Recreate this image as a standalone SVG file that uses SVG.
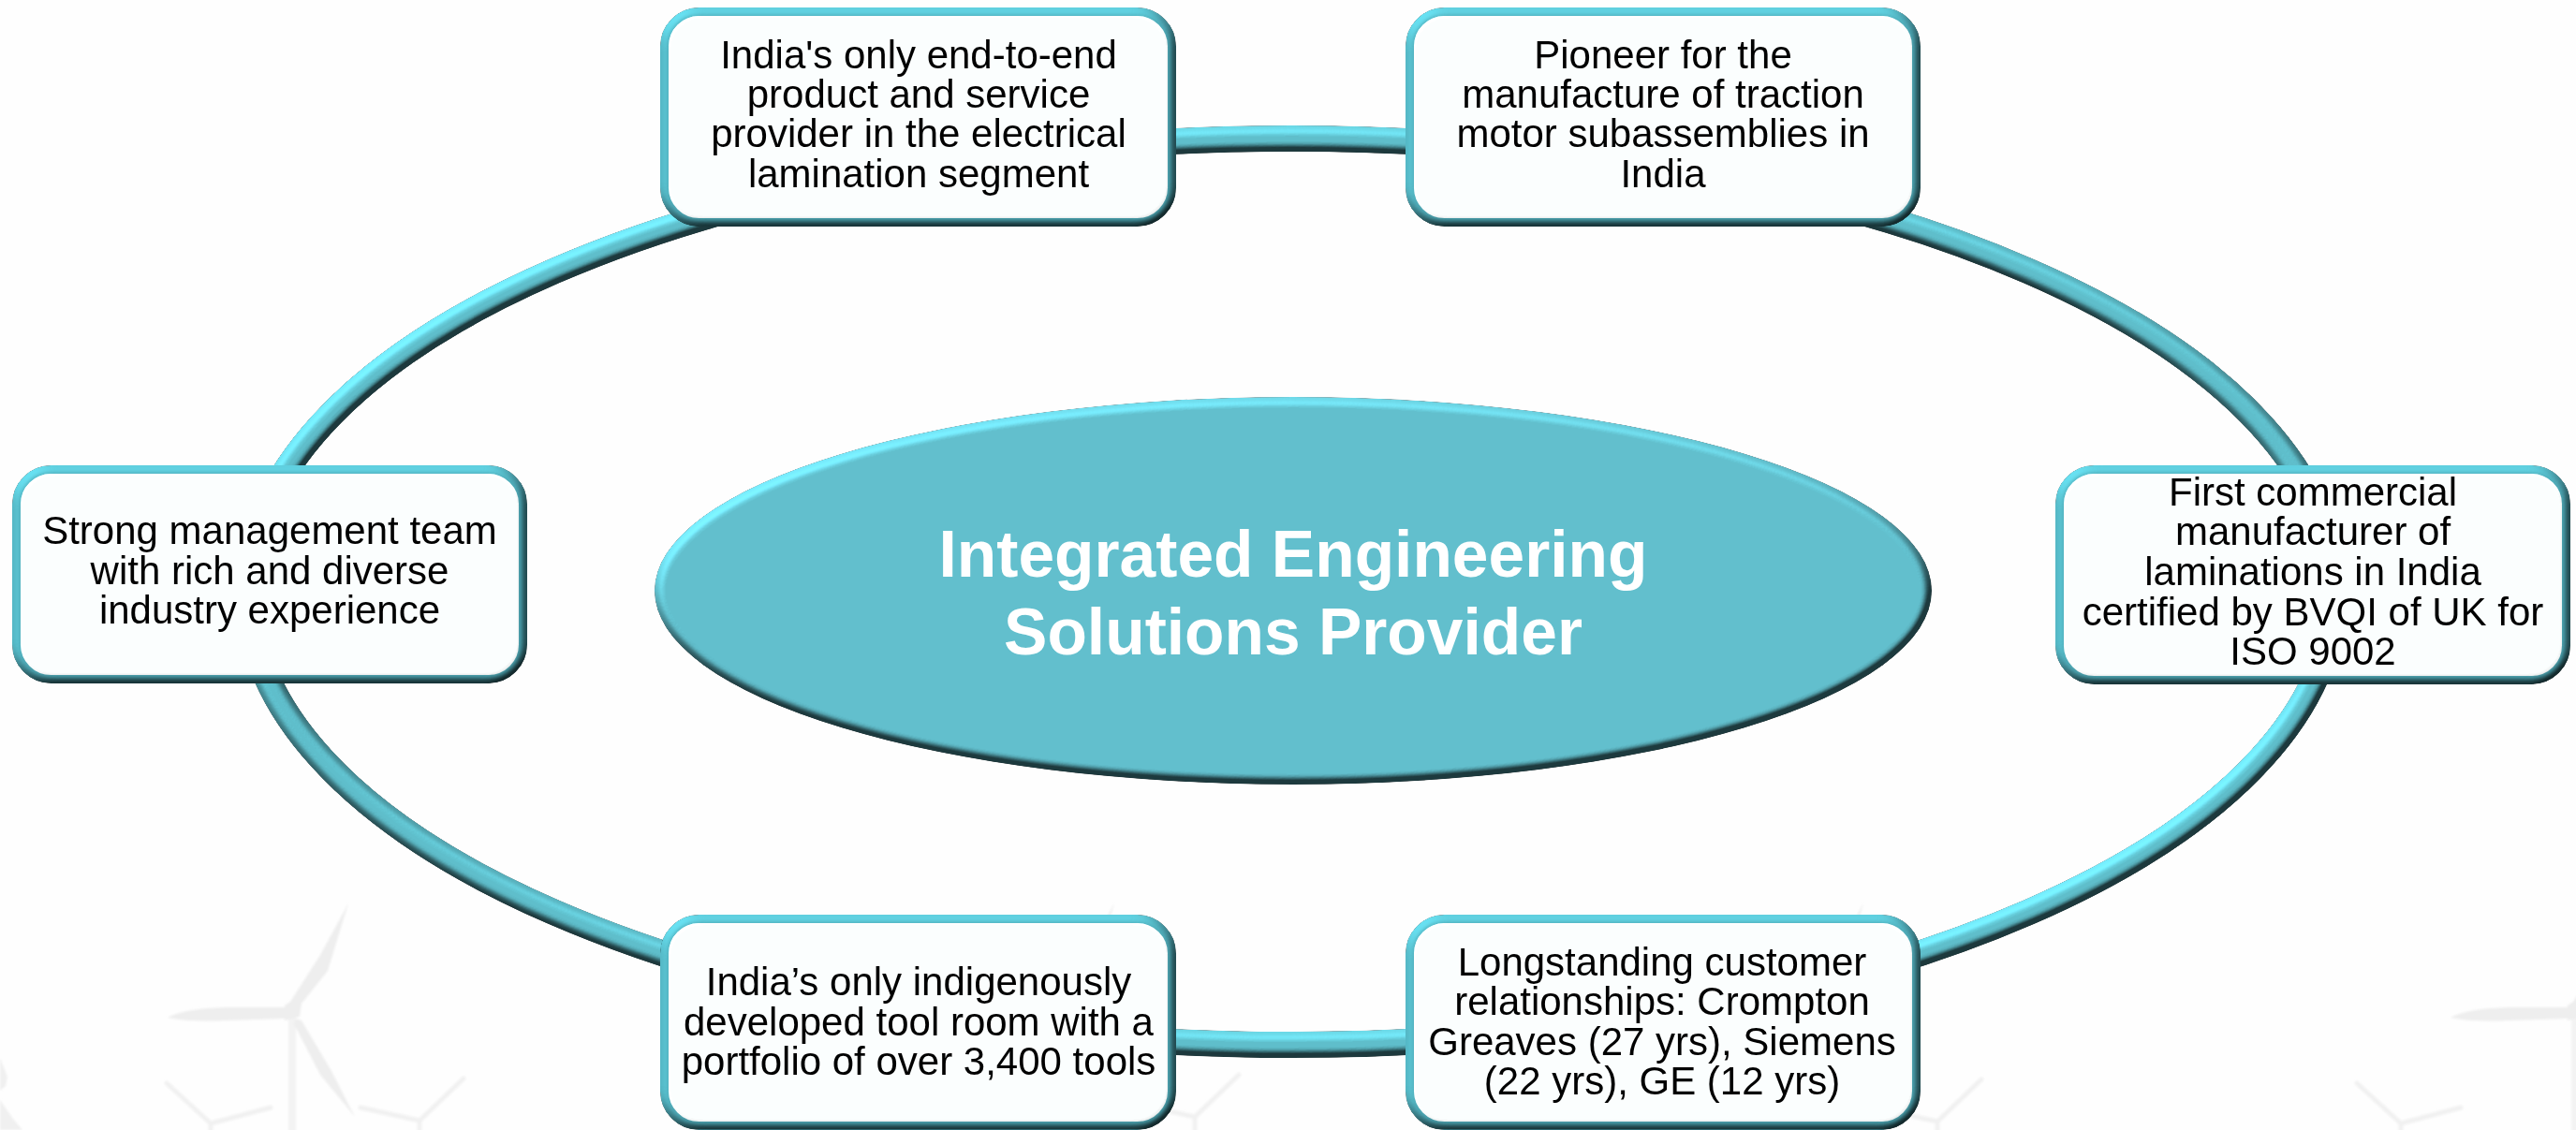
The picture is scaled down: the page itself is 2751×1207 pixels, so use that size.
<svg xmlns="http://www.w3.org/2000/svg" xmlns:xlink="http://www.w3.org/1999/xlink" width="2751" height="1207" viewBox="0 0 2751 1207">
<style>
.t{font-family:"Liberation Sans",Arial,sans-serif;font-size:42px;fill:#000;text-anchor:middle}
.title{font-family:"Liberation Sans",Arial,sans-serif;font-size:69.5px;font-weight:700;fill:#fff;text-anchor:middle}
.box{fill:#fcffff;stroke:#4fabb8;stroke-width:9;filter:url(#bevelBox)}
.blade{fill:#eeeeee}
.tower{fill:#f3f3f3}
.thin{stroke:#f1f1f1;stroke-width:5;stroke-linecap:round;fill:none}
</style>
<defs>
<filter id="bevelBox" filterUnits="userSpaceOnUse" x="0" y="0" width="2751" height="1207" color-interpolation-filters="sRGB">
<feGaussianBlur in="SourceAlpha" stdDeviation="4" result="h"/>
<feDiffuseLighting in="h" surfaceScale="6" diffuseConstant="0.707" lighting-color="#fff" result="d"><feDistantLight azimuth="235" elevation="45"/></feDiffuseLighting>
<feComposite in="d" in2="SourceGraphic" operator="arithmetic" k1="1.5" k2="0" k3="0.25" k4="0" result="lit"/>
<feComposite in="lit" in2="SourceAlpha" operator="in"/>
</filter>
<filter id="bevelRing" filterUnits="userSpaceOnUse" x="0" y="0" width="2751" height="1207" color-interpolation-filters="sRGB">
<feGaussianBlur in="SourceAlpha" stdDeviation="4.5" result="h"/>
<feDiffuseLighting in="h" surfaceScale="11" diffuseConstant="0.707" lighting-color="#fff" result="d"><feDistantLight azimuth="235" elevation="45"/></feDiffuseLighting>
<feComposite in="d" in2="SourceGraphic" operator="arithmetic" k1="1.4" k2="0" k3="0.3" k4="0" result="lit"/>
<feComposite in="lit" in2="SourceAlpha" operator="in"/>
</filter>
<filter id="soft" x="-10%" y="-10%" width="120%" height="120%"><feGaussianBlur stdDeviation="1"/></filter>
<g id="bigTurbine">
<rect class="tower" x="-4" y="0" width="8" height="140"/>
<path class="blade" d="M-8,-8 L-2,-12 L30,-62 L60,-117 L38,-45 L10,-10 L8,4 L-8,8Z"/>
<path class="blade" d="M-8,-6 L-70,-6 Q-115,-5 -133,5 Q-110,10 -70,8 L-8,6Z"/>
<path class="blade" d="M4,6 L10,8 L42,62 L67,111 L30,66 L2,12Z"/>
</g>
<g id="smallL"><path class="thin" d="M0,0 L-47,-43 M0,0 L64,-17 M0,0 V20"/></g>
<g id="smallR"><path class="thin" d="M0,0 L47,-45 M0,0 L-63,-14 M0,0 V20"/></g>
</defs>
<g id="background">
<rect width="2751" height="1207" fill="#fefefe"/>
<g filter="url(#soft)">
<use href="#bigTurbine" x="312" y="1082"/>
<use href="#bigTurbine" x="1130" y="1082"/>
<use href="#bigTurbine" x="1930" y="1082"/>
<use href="#bigTurbine" x="2750" y="1082"/>
<use href="#smallL" x="225" y="1200"/>
<use href="#smallR" x="448" y="1197"/>
<use href="#smallR" x="1276" y="1193"/>
<use href="#smallR" x="2069" y="1198"/>
<use href="#smallL" x="2564" y="1200"/>
<path d="M0,1130 L8,1150 L6,1160 L0,1165Z M0,1175 L14,1195 L24,1207 L0,1207Z" fill="#f0f0f0"/>
</g>
</g>
<g id="connectors">
<ellipse cx="1379" cy="632" rx="1114" ry="484" fill="none" stroke="#5fbfcc" stroke-width="28" filter="url(#bevelRing)"/>
</g>
<g id="node-center">
<ellipse cx="1381" cy="631" rx="682" ry="207" fill="#62c0ce" filter="url(#bevelRing)"/>
<text class="title" x="1381" y="616">Integrated Engineering</text>
<text class="title" x="1381" y="699">Solutions Provider</text>
</g>
<g id="node-top-left">
<rect class="box" x="709.5" y="12.5" width="542" height="225" rx="37"/>
<text class="t" x="981" y="73">India's only end-to-end</text>
<text class="t" x="981" y="115">product and service</text>
<text class="t" x="981" y="157">provider in the electrical</text>
<text class="t" x="981" y="200">lamination segment</text>
</g>
<g id="node-top-right">
<rect class="box" x="1505.5" y="12.5" width="541" height="225" rx="37"/>
<text class="t" x="1776" y="73">Pioneer for the</text>
<text class="t" x="1776" y="115">manufacture of traction</text>
<text class="t" x="1776" y="157">motor subassemblies in</text>
<text class="t" x="1776" y="200">India</text>
</g>
<g id="node-left">
<rect class="box" x="17.5" y="501.5" width="541" height="224" rx="37"/>
<text class="t" x="288" y="581">Strong management team</text>
<text class="t" x="288" y="624">with rich and diverse</text>
<text class="t" x="288" y="666">industry experience</text>
</g>
<g id="node-right">
<rect class="box" x="2199.5" y="501.5" width="541" height="225" rx="37"/>
<text class="t" x="2470" y="540">First commercial</text>
<text class="t" x="2470" y="582">manufacturer of</text>
<text class="t" x="2470" y="625">laminations in India</text>
<text class="t" x="2470" y="668">certified by BVQI of UK for</text>
<text class="t" x="2470" y="710">ISO 9002</text>
</g>
<g id="node-bottom-left">
<rect class="box" x="709.5" y="981.5" width="542" height="221" rx="37"/>
<text class="t" x="981" y="1063">India’s only indigenously</text>
<text class="t" x="981" y="1106">developed tool room with a</text>
<text class="t" x="981" y="1148">portfolio of over 3,400 tools</text>
</g>
<g id="node-bottom-right">
<rect class="box" x="1505.5" y="981.5" width="541" height="221" rx="37"/>
<text class="t" x="1775" y="1042">Longstanding customer</text>
<text class="t" x="1775" y="1084">relationships: Crompton</text>
<text class="t" x="1775" y="1127">Greaves (27 yrs), Siemens</text>
<text class="t" x="1775" y="1169">(22 yrs), GE (12 yrs)</text>
</g>
</svg>
